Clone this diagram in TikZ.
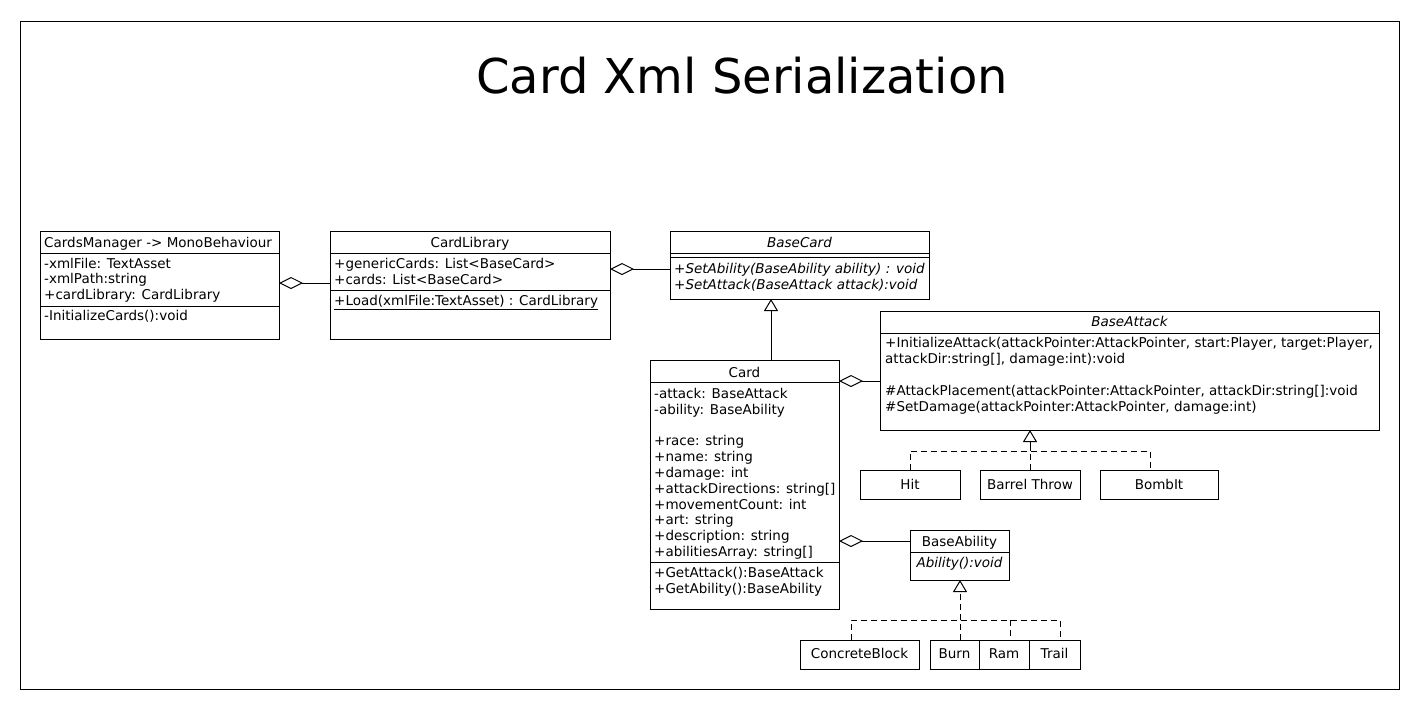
\documentclass[tikz,border=0pt]{standalone}
\usepackage{fontspec}
\setmainfont{DejaVu Sans}
\usetikzlibrary{arrows.meta}
\newcommand\fs{\fontsize{13.5}{15.8}\selectfont}
\newcommand\umlsep[2]{\draw[line width=1pt] (#1.west |- 0,#2) -- (#1.east |- 0,#2);}
\begin{document}
\begin{tikzpicture}[x=1pt,y=-1pt,
  box/.style={draw, line width=1pt, inner sep=0pt, outer sep=0pt, anchor=north west},
  txt/.style={inner sep=0pt, anchor=base west, font=\fs},
  ctxt/.style={inner sep=0pt, anchor=base, font=\fs},
  agg/.style={line width=1pt, {Diamond[open,length=24pt,width=12pt,line width=1pt]}-},
  gen/.style={line width=1pt, -{Triangle[open,length=12pt,width=14pt,line width=1pt]}},
  dashline/.style={line width=1pt, dash pattern=on 6pt off 4pt}]
\path[use as bounding box] (0,0) rectangle (1420,710);
\node[box, minimum width=1379pt, minimum height=668pt] (frame) at (20,21) {};
\node[inner sep=0pt, anchor=base, font=\fontsize{48}{56}\selectfont] (title) at (742,93) {Card Xml Serialization};

% CardsManager
\node[box, minimum width=239pt, minimum height=108pt] (cm) at (40,231) {};
\umlsep{cm}{253.5}\umlsep{cm}{306}
\node[txt] (cm-t) at (44,247.5) {CardsManager -> MonoBehaviour};
\node[txt] (cm-a1) at (44,268) {-xmlFile: TextAsset};
\node[txt] (cm-a2) at (44,283.5) {-xmlPath:string};
\node[txt] (cm-a3) at (44,299.5) {+cardLibrary: CardLibrary};
\node[txt] (cm-m1) at (44,320) {-InitializeCards():void};

% CardLibrary
\node[box, minimum width=280pt, minimum height=108pt] (cl) at (330,231) {};
\umlsep{cl}{253.5}\umlsep{cl}{290}
\node[ctxt] (cl-t) at (470,247.5) {CardLibrary};
\node[txt] (cl-a1) at (334,268.5) {+genericCards: List<BaseCard>};
\node[txt] (cl-a2) at (334,284) {+cards: List<BaseCard>};
\node[txt] (cl-m1) at (334,305) {\underline{+Load(xmlFile:TextAsset) : CardLibrary}};

% BaseCard
\node[box, minimum width=259pt, minimum height=68pt] (bc) at (670,231) {};
\umlsep{bc}{253}\umlsep{bc}{257}
\node[ctxt] (bc-t) at (799.5,247.5) {\itshape BaseCard};
\node[txt] (bc-m1) at (674,273.5) {\itshape +SetAbility(BaseAbility ability) : void};
\node[txt] (bc-m2) at (674,289) {\itshape +SetAttack(BaseAttack attack):void};

% Card
\node[box, minimum width=189pt, minimum height=249pt] (card) at (650,360) {};
\umlsep{card}{382.5}\umlsep{card}{562}
\node[ctxt] (card-t) at (744.5,377.5) {Card};
\node[txt] (card-a1) at (654,398.5) {-attack: BaseAttack};
\node[txt] (card-a2) at (654,414.3) {-ability: BaseAbility};
\node[txt] (card-a3) at (654,445.9) {+race: string};
\node[txt] (card-a4) at (654,461.7) {+name: string};
\node[txt] (card-a5) at (654,477.5) {+damage: int};
\node[txt] (card-a6) at (654,493.3) {+attackDirections: string[]};
\node[txt] (card-a7) at (654,509.1) {+movementCount: int};
\node[txt] (card-a8) at (654,524.9) {+art: string};
\node[txt] (card-a9) at (654,540.7) {+description: string};
\node[txt] (card-a10) at (654,556.5) {+abilitiesArray: string[]};
\node[txt] (card-m1) at (654,577.5) {+GetAttack():BaseAttack};
\node[txt] (card-m2) at (654,593.3) {+GetAbility():BaseAbility};

% BaseAttack
\node[box, minimum width=499pt, minimum height=119pt] (ba) at (880,311) {};
\umlsep{ba}{333}
\node[ctxt] (ba-t) at (1129.5,326.5) {\itshape BaseAttack};
\node[txt] (ba-m1) at (885,347.5) {+InitializeAttack(attackPointer:AttackPointer, start:Player, target:Player,};
\node[txt] (ba-m2) at (885,363.3) {attackDir:string[], damage:int):void};
\node[txt] (ba-m3) at (885,395.5) {\#AttackPlacement(attackPointer:AttackPointer, attackDir:string[]:void};
\node[txt] (ba-m4) at (885,411.3) {\#SetDamage(attackPointer:AttackPointer, damage:int)};

% attack subclasses
\node[box, minimum width=100pt, minimum height=29pt] (hit) at (860,470) {};
\node[box, minimum width=100pt, minimum height=29pt] (bt) at (980,470) {};
\node[box, minimum width=118pt, minimum height=29pt] (bomb) at (1100,470) {};
\node[ctxt] (hit-t) at (910,489.5) {Hit};
\node[ctxt] (bt-t) at (1030,489.5) {Barrel Throw};
\node[ctxt] (bomb-t) at (1159,489.5) {BombIt};

% BaseAbility
\node[box, minimum width=99pt, minimum height=50pt] (bab) at (910,530) {};
\umlsep{bab}{552.5}
\node[ctxt] (bab-t) at (959.5,546.5) {BaseAbility};
\node[ctxt] (bab-m1) at (959.5,567.5) {\itshape Ability():void};

% ability subclasses
\node[box, minimum width=119pt, minimum height=29pt] (cb) at (800,640) {};
\node[box, minimum width=49pt, minimum height=29pt] (burn) at (930,640) {};
\node[box, minimum width=50pt, minimum height=29pt] (ram) at (979,640) {};
\node[box, minimum width=51pt, minimum height=29pt] (trail) at (1029,640) {};
\node[ctxt] (cb-t) at (859.5,658.5) {ConcreteBlock};
\node[ctxt] (burn-t) at (954.5,658.5) {Burn};
\node[ctxt] (ram-t) at (1004,658.5) {Ram};
\node[ctxt] (trail-t) at (1054.5,658.5) {Trail};

% connectors
\coordinate (y1) at (0,283);
\coordinate (y2) at (0,269);
\coordinate (x3) at (771,0);
\coordinate (y4) at (0,381);
\coordinate (y5) at (0,541);
\draw[agg] (cm.east |- y1) -- (cl.west |- y1);
\draw[agg] (cl.east |- y2) -- (bc.west |- y2);
\draw[gen] (card.north -| x3) -- (bc.south -| x3);
\draw[agg] (card.east |- y4) -- (ba.west |- y4);
\draw[agg] (card.east |- y5) -- (bab.west |- y5);

\coordinate (j1) at (0,451);
\coordinate (xb) at (1150,0);
\draw[dashline] (hit.north) -- (hit.north |- j1) -- (xb |- j1) -- (xb |- bomb.north);
\draw[dashline] (bt.north) -- (bt.north |- j1);
\draw[gen] (bt.north |- j1) -- (bt.north |- ba.south);

\coordinate (j2) at (0,620);
\coordinate (xc) at (851,0);
\coordinate (xs) at (960,0);
\coordinate (xr) at (1010,0);
\coordinate (xt) at (1060,0);
\draw[dashline] (xc |- cb.north) -- (xc |- j2) -- (xt |- j2) -- (xt |- trail.north);
\draw[dashline] (xr |- j2) -- (xr |- ram.north);
\draw[dashline] (xs |- burn.north) -- (xs |- j2);
\draw[dashline, gen] (xs |- j2) -- (xs |- bab.south);
\end{tikzpicture}
\end{document}
